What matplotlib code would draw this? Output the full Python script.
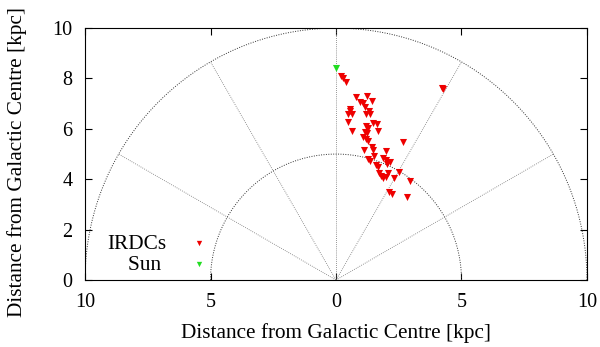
import numpy as np
import matplotlib
matplotlib.use('Agg')
import matplotlib.pyplot as plt

# positions of the IRDCs in galactocentric coordinates (kpc)
irdc_x = [0.20, 0.29, 0.40, 4.21, 4.26, 0.78, 1.22, 1.43, 0.96, 1.06,
          1.16, 0.56, 0.54, 0.49, 0.63, 1.31, 1.20, 1.35, 0.49, 1.49,
          1.62, 1.20, 1.26, 1.66, 0.65, 1.16, 1.22, 1.09, 1.20, 1.29,
          2.66, 1.12, 1.42, 1.49, 1.99, 1.51, 1.29, 1.35, 1.88, 1.99,
          2.15, 2.04, 1.59, 1.69, 2.52, 2.08, 1.71, 1.79, 2.95, 1.88,
          1.99, 2.31, 2.12, 2.24, 2.84]
irdc_y = [8.10, 8.00, 7.87, 7.61, 7.57, 7.27, 7.31, 7.12, 7.08, 7.01,
          6.88, 6.77, 6.69, 6.61, 6.59, 6.72, 6.59, 6.58, 6.28, 6.22,
          6.19, 6.11, 6.02, 5.92, 5.92, 5.89, 5.82, 5.66, 5.58, 5.53,
          5.48, 5.16, 5.27, 5.16, 5.13, 4.92, 4.79, 4.72, 4.85, 4.76,
          4.69, 4.60, 4.56, 4.50, 4.30, 4.26, 4.23, 4.13, 3.94, 4.04,
          4.08, 4.04, 3.50, 3.41, 3.31]
sun_x = [0.0]
sun_y = [8.4]

radii = [5, 10]
angles = [0, 30, 60, 90, 120, 150, 180]
xticks = [-10, -5, 0, 5, 10]
xticklabels = ['10', '5', '0', '5', '10']
yticks = [0, 2, 4, 6, 8, 10]

plt.rcParams['font.family'] = ['Liberation Serif', 'DejaVu Serif']
plt.rcParams['font.size'] = 15.3

fig = plt.figure(figsize=(6, 3.47), dpi=100)
ax = fig.add_axes([0.1417, 0.193, 0.8366, 0.726])

# polar grid
t = np.linspace(0, np.pi, 300)
for r in radii:
    ax.plot(r * np.cos(t), r * np.sin(t), ls=(0, (1, 1.5)), color='0.2', lw=0.7)
for a in angles:
    th = np.radians(a)
    ax.plot([0, 10 * np.cos(th)], [0, 10 * np.sin(th)], ls=(0, (1, 1.5)),
            color='0.45', lw=0.6)

ax.scatter(irdc_x, irdc_y, marker='v', s=26, color='#ee0000', lw=0, label='IRDCs', zorder=3)
ax.scatter(sun_x, sun_y, marker='v', s=26, color='#22dd22', lw=0, label='Sun ', zorder=3)

ax.set_xlim(-10, 10)
ax.set_ylim(0, 10)
ax.set_xticks(xticks)
ax.set_xticklabels(xticklabels)
ax.set_yticks(yticks)
ax.tick_params(direction='in', top=True, right=True, length=5, pad=9, labelsize=14.5)
ax.set_xlabel('Distance from Galactic Centre [kpc]', labelpad=8)
ax.set_ylabel('Distance from Galactic Centre [kpc]')
ax.yaxis.set_label_coords(-0.115, 0.468)

leg = ax.legend(loc='lower right', bbox_to_anchor=(0.249, 0.02), markerfirst=False,
                frameon=False, fontsize=15.3, markerscale=0.75, handlelength=1.0,
                handletextpad=1.05, labelspacing=0.05, borderpad=0, borderaxespad=0)
for col in leg._legend_handle_box.get_children():
    col.align = 'right'

fig.savefig('out.png', dpi=100)
